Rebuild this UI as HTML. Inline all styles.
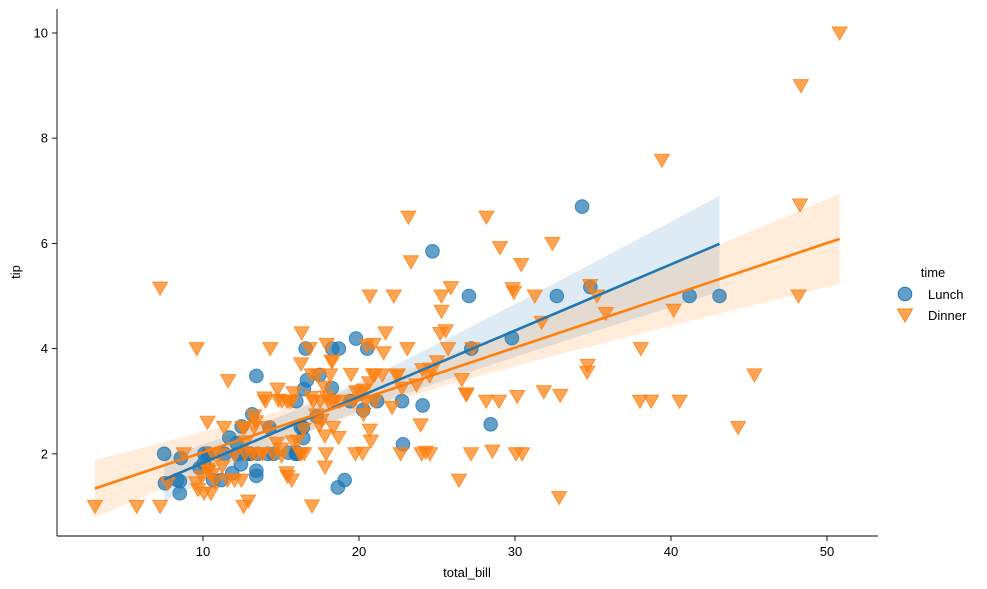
<!DOCTYPE html>
<html><head><meta charset="utf-8">
<style>
html,body{margin:0;padding:0;background:#fff;}
svg{display:block;font-family:"Liberation Sans","DejaVu Sans",sans-serif;}
</style></head>
<body>
<svg id="chart" width="987" height="589" viewBox="0 0 987 589" xmlns="http://www.w3.org/2000/svg"></svg>
<script>
const lunchBill=[27.20,22.76,17.29,19.44,16.66,10.07,32.68,15.98,34.83,13.03,18.28,24.71,21.16,
10.65,12.43,24.08,11.69,13.42,14.26,15.95,12.48,29.80,8.52,14.52,11.38,22.82,19.08,20.27,11.17,12.26,18.26,8.51,10.33,14.15,16.0,13.16,17.47,34.30,41.19,27.05,16.43,8.35,18.64,11.87,9.78,7.51,
19.81,28.44,15.48,16.58,7.56,10.34,43.11,13.0,13.51,18.71,12.74,13.0,16.40,20.53,16.47,
12.16,13.42,8.58,15.98,13.42,16.27,10.09];
const lunchTip=[4.0,3.0,2.71,3.0,3.4,1.83,5.0,2.03,5.17,2.0,4.0,5.85,3.0,
1.5,1.8,2.92,2.31,1.68,2.5,2.0,2.52,4.2,1.48,2.0,2.0,2.18,1.5,2.83,1.5,2.0,3.25,1.25,2.0,2.0,2.0,2.75,3.5,6.7,5.0,5.0,2.3,1.5,1.36,1.63,1.73,2.0,
4.19,2.56,2.02,4.0,1.44,2.0,5.0,2.0,2.0,4.0,2.01,2.0,2.5,4.0,3.23,
2.2,3.48,1.92,3.0,1.58,2.5,2.0];
const dinnerBill=[16.99,10.34,21.01,23.68,24.59,25.29,8.77,26.88,15.04,14.78,10.27,35.26,15.42,18.43,14.83,21.58,10.33,16.29,16.97,
20.65,17.92,20.29,15.77,39.42,19.82,17.81,13.37,12.69,21.70,19.65,9.55,18.35,15.06,20.69,17.78,24.06,16.31,16.93,18.69,31.27,16.04,
17.46,13.94,9.68,30.40,18.29,22.23,32.40,28.55,18.04,12.54,10.29,34.81,9.94,25.56,19.49,38.01,26.41,11.24,48.27,20.29,13.81,11.02,18.29,17.59,20.08,16.45,3.07,20.23,15.01,12.02,17.07,26.86,25.28,14.73,10.51,17.92,
28.97,22.49,5.75,16.32,22.75,40.17,27.28,12.03,21.01,12.46,11.35,15.38,
44.30,22.42,20.92,15.36,20.49,25.21,18.24,14.31,14.0,7.25,38.07,23.95,25.71,17.31,29.93,
14.07,13.13,17.26,24.55,19.77,29.85,48.17,25.0,13.39,16.49,21.50,12.66,16.21,13.81,17.51,24.52,20.76,31.71,10.59,10.63,50.81,15.81,7.25,31.85,16.82,32.90,17.89,14.48,9.60,34.63,34.65,23.33,45.35,23.17,40.55,20.69,20.90,30.46,18.15,23.10,15.69,
26.59,38.73,24.27,12.76,30.06,25.89,48.33,13.27,28.17,12.90,28.15,11.59,7.74,30.14,
20.45,13.28,22.12,24.01,15.69,11.61,10.77,15.53,10.07,12.60,32.83,35.83,29.03,27.18,22.67,17.82,18.78];
const dinnerTip=[1.01,1.66,3.5,3.31,3.61,4.71,2.0,3.12,1.96,3.23,1.71,5.0,1.57,3.0,3.02,3.92,1.67,3.71,3.5,
3.35,4.08,2.75,2.23,7.58,3.18,2.34,2.0,2.0,4.3,3.0,1.45,2.5,3.0,2.45,3.27,3.6,2.0,3.07,2.31,5.0,2.24,
2.54,3.06,1.32,5.6,3.0,5.0,6.0,2.05,3.0,2.5,2.6,5.2,1.56,4.34,3.51,3.0,1.5,1.76,6.73,3.21,2.0,1.98,3.76,2.64,3.15,2.47,1.0,2.01,2.09,1.97,3.0,3.14,5.0,2.2,1.25,3.08,
3.0,3.5,1.0,4.3,3.25,4.73,4.0,1.5,3.0,1.5,2.5,3.0,
2.5,3.48,4.08,1.64,4.06,4.29,3.76,4.0,3.0,1.0,4.0,2.55,4.0,3.5,5.07,
2.5,2.0,2.74,2.0,2.0,5.14,5.0,3.75,2.61,2.0,3.5,2.5,2.0,2.0,3.0,3.48,2.24,4.5,1.61,2.0,10.0,3.16,5.15,3.18,4.0,3.11,2.0,2.0,4.0,3.55,3.68,5.65,3.5,6.5,3.0,5.0,3.5,2.0,3.5,4.0,1.5,
3.41,3.0,2.03,2.23,2.0,5.16,9.0,2.5,6.5,1.1,3.0,1.5,1.44,3.09,
3.0,2.72,2.88,2.0,3.0,3.39,1.47,3.0,1.25,1.0,1.17,4.67,5.92,2.0,2.0,1.75,3.0];
const xTicks=[10,20,30,40,50];
const yTicks=[2,4,6,8,10];

const NS="http://www.w3.org/2000/svg";
const svg=document.getElementById('chart');
const X=v=>47+15.6*v;
const Y=v=>559-52.6*v;
function mk(tag,attrs,parent){const e=document.createElementNS(NS,tag);for(const k in attrs)e.setAttribute(k,attrs[k]);(parent||svg).appendChild(e);return e;}

function fit(xs,ys){
  const n=xs.length,mx=xs.reduce((a,b)=>a+b)/n,my=ys.reduce((a,b)=>a+b)/n;
  let sxx=0,sxy=0;for(let i=0;i<n;i++){sxx+=(xs[i]-mx)**2;sxy+=(xs[i]-mx)*(ys[i]-my);}
  const b=sxy/sxx,a=my-b*mx;let sse=0;for(let i=0;i<n;i++)sse+=(ys[i]-a-b*xs[i])**2;
  const s=Math.sqrt(sse/(n-2));return {a,b,s,n,mx,sxx,min:Math.min(...xs),max:Math.max(...xs)};
}
function drawFit(xs,ys,color,name){
  const f=fit(xs,ys);const up=[],lo=[];const N=60;
  for(let i=0;i<=N;i++){const x=f.min+(f.max-f.min)*i/N;const yh=f.a+f.b*x;
    const se=f.s*Math.sqrt(1/f.n+(x-f.mx)**2/f.sxx)*2.96;
    up.push(X(x).toFixed(1)+','+Y(yh+se).toFixed(1));lo.unshift(X(x).toFixed(1)+','+Y(yh-se).toFixed(1));}
  const band=mk('polygon',{points:up.concat(lo).join(' '),fill:color,'fill-opacity':0.15,stroke:'none'});
  
  
  return f;
}
function drawLine(f,color,name){
  const l=mk('line',{x1:X(f.min),y1:Y(f.a+f.b*f.min),x2:X(f.max),y2:Y(f.a+f.b*f.max),stroke:color,'stroke-width':2.6});
  
  
}
const fl=drawFit(lunchBill,lunchTip,'#1f77b4','lunch');
const fd=drawFit(dinnerBill,dinnerTip,'#ff7f0e','dinner');

function tri(cx,cy){return `${cx-7.5},${cy-6} ${cx+7.5},${cy-6} ${cx},${cy+7}`;}
for(let i=0;i<lunchBill.length;i++){
  const c=mk('circle',{cx:X(lunchBill[i]),cy:Y(lunchTip[i]),r:6.8,fill:'#1f77b4','fill-opacity':0.7,stroke:'#1f77b4','stroke-opacity':0.8,'stroke-width':1});
  
  
}
for(let i=0;i<dinnerBill.length;i++){
  const p=mk('polygon',{points:tri(X(dinnerBill[i]),Y(dinnerTip[i])),fill:'#ff7f0e','fill-opacity':0.7,stroke:'#ff7f0e','stroke-opacity':0.8,'stroke-width':1});
  
  
}
drawLine(fl,'#1f77b4','lunch');
drawLine(fd,'#ff7f0e','dinner');

const ax=mk('g',{});
mk('line',{x1:57,y1:9,x2:57,y2:536,stroke:'#000','stroke-width':0.9},ax);
mk('line',{x1:57,y1:536,x2:878,y2:536,stroke:'#000','stroke-width':0.9},ax);
xTicks.forEach(t=>{
  mk('line',{x1:X(t),y1:536,x2:X(t),y2:541,stroke:'#000','stroke-width':0.9},ax);
  const tx=mk('text',{x:X(t),y:556,'text-anchor':'middle','font-size':13,fill:'#000'},ax);tx.textContent=t;
  
  
});
yTicks.forEach(t=>{
  mk('line',{x1:52,y1:Y(t),x2:57,y2:Y(t),stroke:'#000','stroke-width':0.9},ax);
  const tx=mk('text',{x:48,y:Y(t)+4.5,'text-anchor':'end','font-size':13,fill:'#000'},ax);tx.textContent=t;
  
  
});
</script>
<svg style="position:absolute;left:0;top:0" width="987" height="589" xmlns="http://www.w3.org/2000/svg" font-family="Liberation Sans, DejaVu Sans, sans-serif">
<text x="467" y="577" text-anchor="middle" font-size="13">total_bill</text>
<text x="20" y="272" text-anchor="middle" font-size="13" transform="rotate(-90 20 272)">tip</text>
<g>
<text x="933" y="277" text-anchor="middle" font-size="13">time</text>
<circle cx="905" cy="294" r="6.8" fill="#1f77b4" fill-opacity="0.7" stroke="#1f77b4"/>
<text x="928" y="299" font-size="13">Lunch</text>
<polygon points="897.5,309 912.5,309 905,322" fill="#ff7f0e" fill-opacity="0.7" stroke="#ff7f0e"/>
<text x="928" y="320" font-size="13">Dinner</text>
</g>
</svg>
</body></html>
